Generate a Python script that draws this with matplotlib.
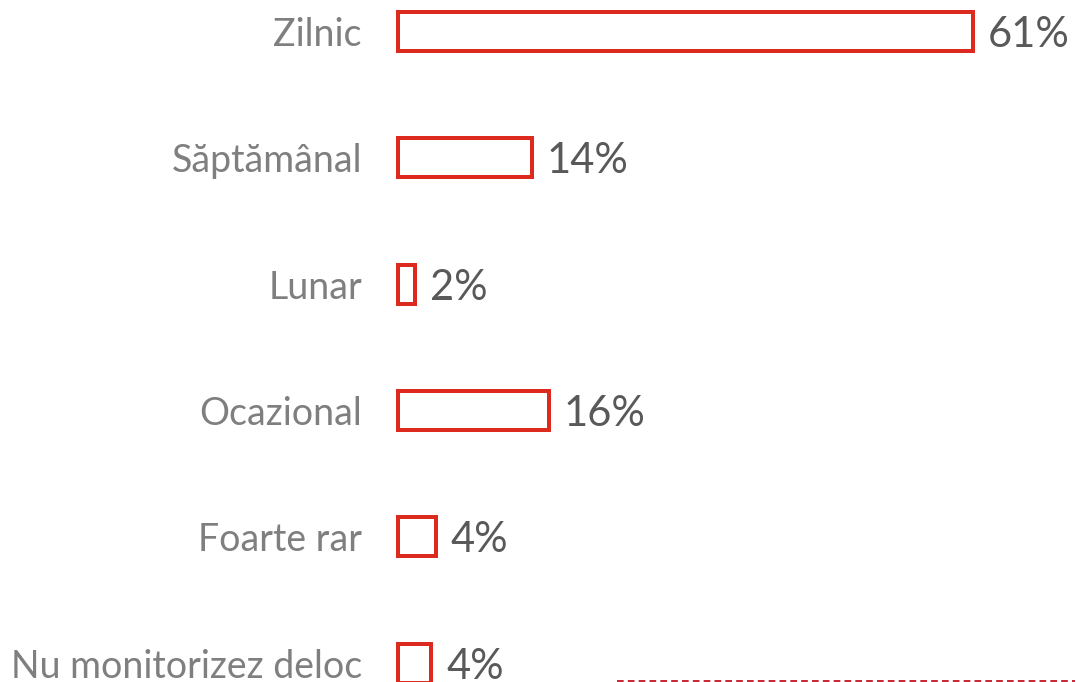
import matplotlib
matplotlib.use("Agg")
import matplotlib.pyplot as plt
from matplotlib.transforms import offset_copy

categories = ["Zilnic", "Săptămânal", "Lunar", "Ocazional", "Foarte rar", "Nu monitorizez deloc"]
values = [61, 14.2, 1.8, 16, 4, 3.5]
value_labels = ["61%", "14%", "2%", "16%", "4%", "4%"]

plt.rcParams['font.family'] = ['Lato', 'DejaVu Sans']

W, H = 1076, 682
fig = plt.figure(figsize=(W / 100, H / 100), dpi=100)
fig.patch.set_facecolor("white")

# axes: x=0 at pixel 398, 61 -> pixel 973
px_per_unit = (973 - 398) / 61
left_px = 398
ax = fig.add_axes([left_px / W, 0, (W - left_px) / W, 1])
ax.set_xlim(0, (W - left_px) / px_per_unit)
spacing = 126.4
top_center = 31.3
ax.set_ylim((H - top_center) / spacing, -top_center / spacing)
ax.axis("off")

red = "#DC2A1F"
lw = 4 * 72 / 100
ys = list(range(len(categories)))
ax.barh(ys, values, height=39 / spacing, left=0, color="white",
        edgecolor=red, linewidth=lw, clip_on=False)

lab_trans = offset_copy(ax.transData, fig=fig, x=-36 * 72 / 100, y=0, units="points")
for y, c in zip(ys, categories):
    ax.text(0, y, c, transform=lab_trans, ha="right", va="center_baseline",
            fontsize=27, color="#7F7F7F")

for y, v, t in zip(ys, values, value_labels):
    tr = offset_copy(ax.transData, fig=fig, x=15 * 72 / 100, y=0, units="points")
    ax.text(v, y, t, transform=tr, ha="left", va="center_baseline",
            fontsize=30, color="#595959")

# dashed line at bottom right
fig.add_artist(plt.Line2D([617 / W, 1 - 1 / W], [1.5 / H, 1.5 / H], color="#C0000F",
                          linestyle=(0, (4, 2.5)), linewidth=1.2))

fig.savefig("out.png", dpi=100, facecolor="white")
